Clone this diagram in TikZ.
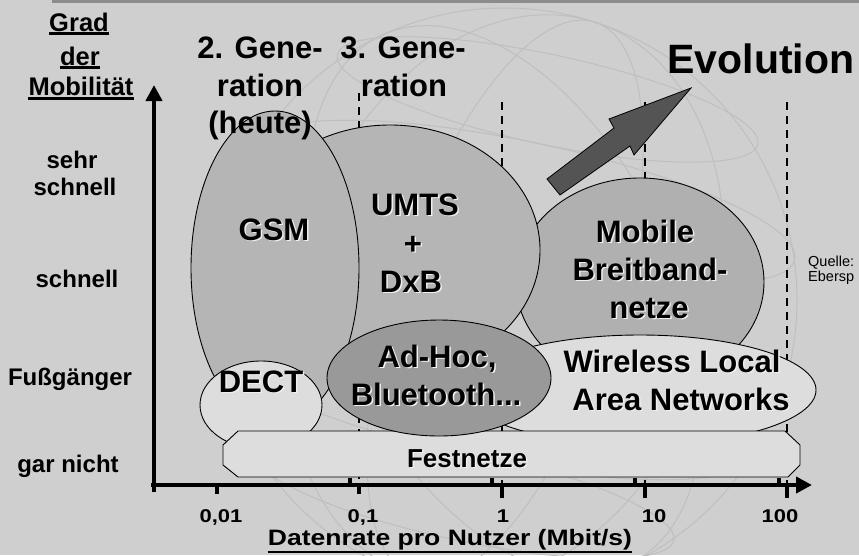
\documentclass[tikz,border=0pt]{standalone}
\usepackage{fontspec}
\setmainfont{Liberation Sans}
\newfontfamily\widefont[FakeStretch=1.19]{Liberation Sans}
\usetikzlibrary{shapes.geometric,arrows.meta}
\definecolor{bg}{gray}{0.81}
\definecolor{topbar}{gray}{0.55}
\definecolor{midfill}{gray}{0.71}
\definecolor{mobfill}{gray}{0.69}
\definecolor{darkfill}{gray}{0.60}
\definecolor{lightfill}{gray}{0.865}
\definecolor{arrowfill}{gray}{0.33}
\definecolor{globe}{gray}{0.75}
\definecolor{shadowc}{gray}{0.94}
\tikzset{
  blob/.style={ellipse, draw=black, line width=0.9pt, inner sep=0pt},
  axisline/.style={line width=4.6pt, -{Triangle[length=16pt,width=16pt]}},
  tick/.style={line width=3.6pt},
  dashline/.style={line width=2.6pt, dash pattern=on 8pt off 6pt},
  uline/.style={line width=2.4pt},
  side/.style={inner sep=0pt, anchor=base, font=\bfseries\fontsize{24}{28}\selectfont},
  head/.style={inner sep=0pt, anchor=base, font=\bfseries\fontsize{25.5}{30}\selectfont},
  gen/.style={inner sep=0pt, anchor=base, font=\bfseries\fontsize{31}{37}\selectfont},
  big/.style={inner sep=0pt, anchor=base, font=\bfseries\fontsize{31}{37}\selectfont},
  fest/.style={inner sep=0pt, anchor=base, font=\bfseries\fontsize{26}{30}\selectfont},
  num/.style={inner sep=0pt, anchor=base, font=\widefont\bfseries\fontsize{18.5}{22}\selectfont},
  xtitle/.style={inner sep=0pt, anchor=base, font=\widefont\bfseries\fontsize{22.3}{26}\selectfont},
  src/.style={inner sep=0pt, anchor=base west, font=\fontsize{14.5}{17}\selectfont},
}
\newcommand\shtxt[4]{%
  \node[#2, text=shadowc] (#1s) at ([xshift=1.5pt,yshift=-1.5pt]#3) {#4};
  \node[#2] (#1) at (#3) {#4};}
\begin{document}
\begin{tikzpicture}[x=1pt,y=-1pt]
\useasboundingbox (0,0) rectangle (859,555);
\fill[bg] (0,0) rectangle (859,555);
\fill[topbar] (52,0) rectangle (859,2.5);

% faint globe
\begin{scope}
\clip (0,3) rectangle (859,555);
\draw[globe, line width=1pt] (505,300) circle (292);
\draw[globe, line width=1pt, rotate around={-18:(505,300)}] (505,300) ellipse (110 and 292);
\draw[globe, line width=1pt, rotate around={-18:(505,300)}] (505,300) ellipse (210 and 292);
\draw[globe, line width=1pt, rotate around={25:(505,300)}] (505,300) ellipse (170 and 292);
\draw[globe, line width=1pt, rotate around={-12:(505,300)}] (505,95) ellipse (215 and 45);
\draw[globe, line width=1pt, rotate around={-12:(505,300)}] (505,200) ellipse (275 and 60);
\draw[globe, line width=1pt, rotate around={-12:(505,300)}] (505,400) ellipse (275 and 60);
\draw[globe, line width=1pt, rotate around={-12:(505,300)}] (505,500) ellipse (215 and 45);
\end{scope}

% dashed decade lines
\draw[dashline] (359,93) -- (359,485);
\draw[dashline] (502,102) -- (502,485);
\draw[dashline] (645,102) -- (645,485);
\draw[dashline] (787,102) -- (787,485);

% areas
\node[blob, fill=mobfill, minimum width=248pt, minimum height=208pt] (mobile) at (640,282) {};
\node[blob, fill=midfill, minimum width=300pt, minimum height=250pt] (umts) at (390,250) {};
\node[blob, fill=midfill, minimum width=168pt, minimum height=314pt] (gsm) at (275,268) {};
\node[blob, fill=lightfill, minimum width=122pt, minimum height=88pt] (dect) at (261,405) {};
\node[blob, fill=lightfill, minimum width=352pt, minimum height=110pt] (wlan) at (640,390) {};
\draw[fill=lightfill, line width=0.9pt]
  (238,431) -- (785,431) -- (800,445) -- (800,465) -- (788,477)
  -- (238,477) -- (223,465) -- (223,445) -- cycle;
\node[blob, fill=darkfill, minimum width=224pt, minimum height=116pt] (adhoc) at (439,378) {};

% evolution arrow
\draw[fill=arrowfill, line width=0.8pt]
  (547,179) -- (614,128) -- (609,119) -- (691,88) -- (634,155) -- (630,146) -- (560,195) -- cycle;

% axes
\draw[axisline] (154,492) -- (154,85);
\draw[axisline] (151,485) -- (812,485);
\foreach \xx in {217,359} \draw[tick] (\xx,485) -- (\xx,494);
\foreach \xx in {502,645,787} \draw[tick] (\xx,485) -- (\xx,498);
\foreach \xx in {350,492,635,779} \draw[tick] (\xx,478) -- (\xx,485);

% side labels
\node[head] (grad) at (79,31) {Grad};
\node[head] (der) at (80,65) {der};
\node[head] (mob) at (81,95) {Mobilität};
\draw[uline] ([yshift=-2.5pt]grad.base west) -- ([yshift=-2.5pt]grad.base east);
\draw[uline] ([yshift=-2.5pt]der.base west) -- ([yshift=-2.5pt]der.base east);
\draw[uline] ([yshift=-3.5pt]mob.base west) -- ([yshift=-3.5pt]mob.base east);
\node[side] (sehr) at (72,168) {sehr};
\node[side] (schnell1) at (75,195) {schnell};
\node[side] (schnell2) at (77,287) {schnell};
\node[side] (fuss) at (70,385) {Fußgänger};
\node[side] (gar) at (68,472) {gar nicht};

% generation labels
\node[gen] (g2a) at (260,58) {2. Gene-};
\node[gen] (g2b) at (260,96) {ration};
\node[gen] (g2c) at (260,133) {(heute)};
\node[gen] (g3a) at (403,58) {3. Gene-};
\node[gen] (g3b) at (404,96) {ration};
\node[inner sep=0pt, anchor=base, font=\bfseries\fontsize{41}{48}\selectfont] (evo) at (761,73) {Evolution};

% area labels
\shtxt{gsmt}{big}{274,240}{GSM}
\shtxt{umtst}{big}{415,215}{UMTS}
\shtxt{plust}{big}{413,254}{+}
\shtxt{dxbt}{big}{411,292}{DxB}
\shtxt{mobt}{big}{645,242}{Mobile}
\shtxt{breitt}{big}{650,280}{Breitband-}
\shtxt{netzet}{big}{649,318}{netze}
\shtxt{adhoct}{big}{437,367}{Ad-Hoc,}
\shtxt{bluet}{big}{436,405}{Bluetooth...}
\shtxt{wlant}{big}{672,372}{Wireless Local}
\shtxt{areat}{big}{681,410}{Area Networks}
\shtxt{dectt}{big}{261,392}{DECT}
\shtxt{festt}{fest}{467,467}{Festnetze}

% axis numbers
\node[num] (n1) at (221,522) {0,01};
\node[num] (n2) at (363,522) {0,1};
\node[num] (n3) at (503,522) {1};
\node[num] (n4) at (654,522) {10};
\node[num] (n5) at (780,522) {100};
\node[xtitle] (xlab) at (450,545) {Datenrate pro Nutzer (Mbit/s)};
\draw[uline] ([yshift=-7pt]xlab.base west) -- ([yshift=-7pt]xlab.base east);

% source
\node[src] (q1) at (808,266) {Quelle:};
\node[src] (q2) at (808,281) {Ebersp};
\end{tikzpicture}
\end{document}
